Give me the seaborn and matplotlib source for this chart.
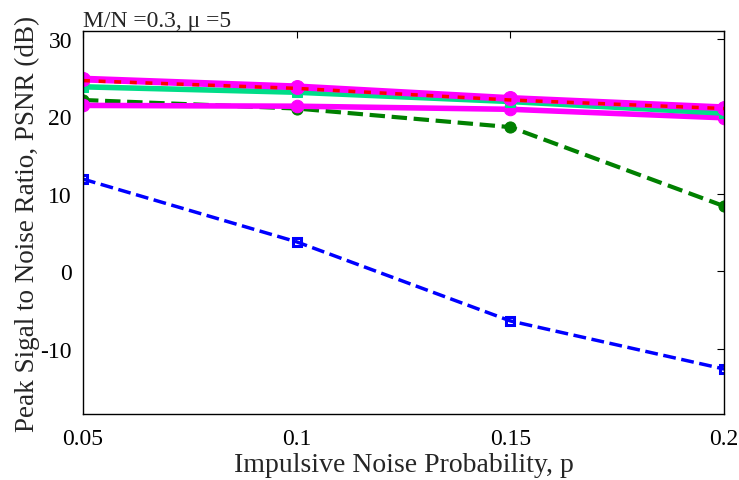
import matplotlib
matplotlib.use("Agg")
import matplotlib.pyplot as plt
import seaborn as sns
import numpy as np

p = [0.05, 0.1, 0.15, 0.2]
blue_dash = [11.9, 3.8, -6.4, -12.6]
green_dash = [22.1, 21.0, 18.6, 8.4]
magenta_low = [21.4, 21.3, 20.9, 19.8]
teal = [23.8, 23.1, 21.9, 20.4]
magenta_high = [24.8, 23.8, 22.3, 21.1]
red_dot = [24.6, 23.6, 22.1, 21.0]

xticks = [0.05, 0.1, 0.15, 0.2]
xtick_labels = ["0.05", "0.1", "0.15", "0.2"]
yticks = [-10, 0, 10, 20, 30]

sns.set_theme(style="white")
plt.rcParams['font.family'] = ['Liberation Serif', 'DejaVu Serif']
plt.rcParams['mathtext.fontset'] = 'stix'
plt.rcParams['axes.unicode_minus'] = False

fig = plt.figure(figsize=(7.39, 4.81), dpi=100)
ax = fig.add_axes([0.1123, 0.1372, 0.8677, 0.7963])

sns.lineplot(x=p, y=blue_dash, ax=ax, color="#0000FF", linestyle="--", linewidth=2.5,
             marker="s", markersize=6, markerfacecolor="none", markeredgecolor="#0000FF",
             markeredgewidth=2.2)
sns.lineplot(x=p, y=green_dash, ax=ax, color="#008000", linestyle="--", linewidth=3,
             marker="o", markersize=8, markerfacecolor="#008000", markeredgecolor="#008000")
sns.lineplot(x=p, y=magenta_low, ax=ax, color="#FF00FF", linestyle="-", linewidth=4,
             marker="o", markersize=9, markerfacecolor="#FF00FF", markeredgecolor="#FF00FF")
sns.lineplot(x=p, y=teal, ax=ax, color="#00DD88", linestyle="-", linewidth=4,
             marker="s", markersize=7, markerfacecolor="#00DD88", markeredgecolor="#00DD88")
sns.lineplot(x=p, y=magenta_high, ax=ax, color="#FF00FF", linestyle="-", linewidth=5,
             marker="o", markersize=10, markerfacecolor="#FF00FF", markeredgecolor="#FF00FF")
sns.lineplot(x=p, y=red_dot, ax=ax, color="#FF0000", linestyle=(0, (2, 2.5)), linewidth=2.5)

ax.set_xlim(0.05, 0.2)
ax.set_ylim(-18.4, 31)
ax.set_xticks(xticks)
ax.set_xticklabels(xtick_labels)
ax.set_yticks(yticks)
ax.tick_params(direction="in", top=True, right=True, length=5, width=0.8,
               labelsize=17, colors="black")
ax.tick_params(axis="x", pad=10)
ax.tick_params(axis="y", pad=8)
for s in ax.spines.values():
    s.set_color("black")
    s.set_linewidth(1)
ax.set_xlabel("Impulsive Noise Probability, p", fontsize=20, labelpad=2)
ax.set_ylabel("Peak Sigal to Noise Ratio, PSNR (dB)", fontsize=19.5, labelpad=0)
ax.text(0.0, 1.0, "M/N =0.3, \u03bc =5", transform=ax.transAxes, fontsize=17,
        ha="left", va="bottom")

fig.savefig("out.png", dpi=100)
